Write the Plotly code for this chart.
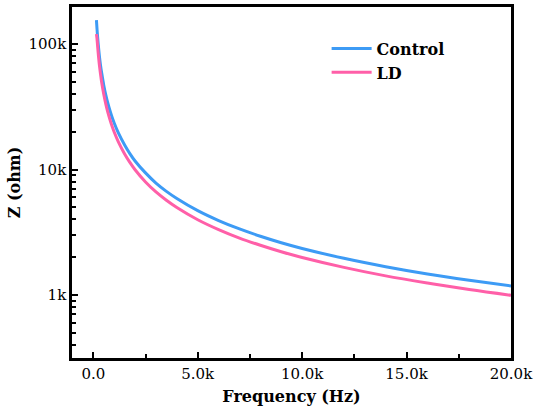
import plotly.graph_objects as go

freq = [150, 175, 200, 250, 300, 350, 400, 500, 600, 700, 800, 900, 1000, 1200, 1500,
        1750, 2000, 2500, 3000, 3500, 4000, 5000, 6000, 7000, 8000, 9000, 10000,
        12000, 14000, 16000, 18000, 20000]
z_control = [155000, 134000, 117000, 94000, 78000, 67000, 59000, 47000, 39200, 33600,
             29400, 26100, 23500, 19600, 15700, 13400, 11700, 9400, 7800, 6700, 5880,
             4700, 3920, 3360, 2940, 2610, 2350, 1960, 1680, 1470, 1310, 1180]
z_ld = [120000, 111000, 99000, 79500, 66000, 56800, 49500, 39800, 33200, 28400,
        24900, 22100, 19900, 16600, 13300, 11400, 9950, 7960, 6630, 5690, 4980,
        3980, 3320, 2840, 2490, 2210, 1990, 1660, 1420, 1245, 1105, 995]

x_label_alias = {"0.00": "0.0", "5.00k": "5.0k"}

font_family = "DejaVu Serif"

fig = go.Figure()
fig.add_trace(go.Scatter(x=freq, y=z_control, mode="lines", name="<b>Control</b>",
                         line=dict(color="#3D9BF5", width=3, shape="spline")))
fig.add_trace(go.Scatter(x=freq, y=z_ld, mode="lines", name="<b>LD</b>",
                         line=dict(color="#FF5FA8", width=3, shape="spline")))

axis_common = dict(showline=True, linecolor="black", linewidth=2.5, mirror=True,
                   ticks="inside", tickcolor="#000000", tickwidth=2, ticklen=6,
                   showgrid=False, zeroline=False, automargin=False,
                   tickfont=dict(family=font_family, size=15, color="black"))

fig.update_xaxes(range=[-1020, 20000], tickmode="linear", tick0=0, dtick=5000,
                 tickformat=".3s", labelalias=x_label_alias,
                 minor=dict(dtick=2500, tick0=0, ticks="inside", ticklen=4,
                            tickwidth=1.5, tickcolor="#000000", showgrid=False),
                 title=dict(text="<b>Frequency (Hz)</b>", standoff=10,
                            font=dict(family=font_family, size=16, color="black")),
                 **axis_common)
fig.update_yaxes(type="log", range=[2.498, 5.295], tickmode="linear", tick0=0, dtick=1,
                 tickformat="~s",
                 minor=dict(dtick="D1", ticks="inside", ticklen=4,
                            tickwidth=1.5, tickcolor="#000000", showgrid=False),
                 title=dict(text="<b>Z (ohm)</b>", standoff=4,
                            font=dict(family=font_family, size=16, color="black")),
                 **axis_common)

fig.update_layout(
    width=534, height=414,
    margin=dict(l=72, r=23, t=7, b=56),
    plot_bgcolor="white", paper_bgcolor="white",
    font=dict(family=font_family, color="black"),
    legend=dict(x=0.58, y=0.93, xanchor="left", yanchor="top",
                bgcolor="rgba(0,0,0,0)", borderwidth=0,
                font=dict(family=font_family, size=16, color="black"),
                itemwidth=40, tracegroupgap=0),
)
fig.write_html("out.html")
